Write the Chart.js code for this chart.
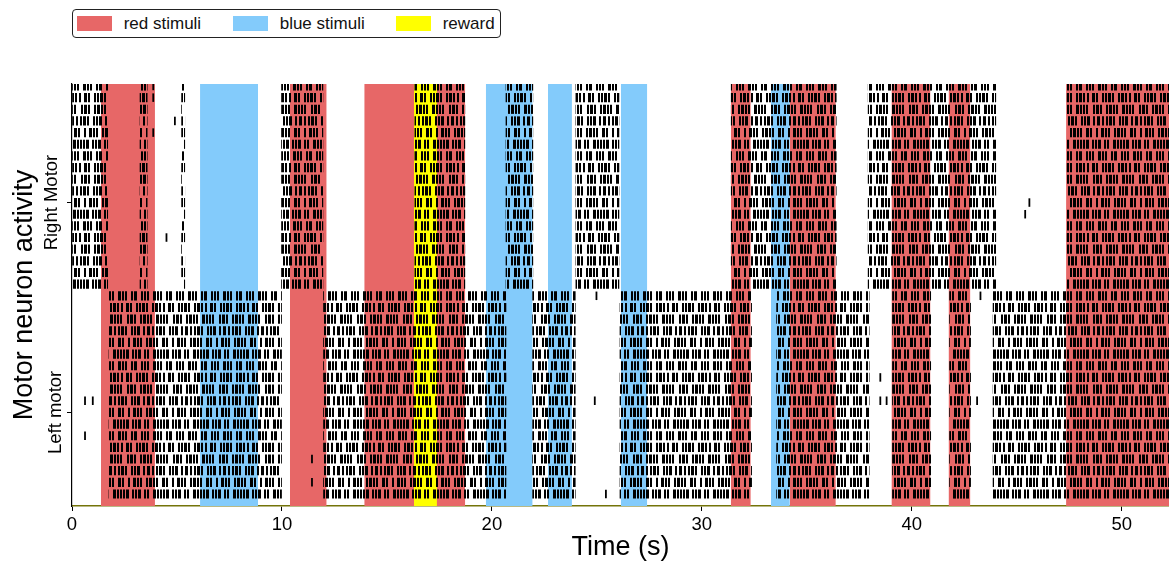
<!DOCTYPE html>
<html>
<head>
<meta charset="utf-8">
<title>Motor neuron activity</title>
<script src="https://cdn.jsdelivr.net/npm/chart.js@4.4.1/dist/chart.umd.min.js"></script>
<style>
  body { margin: 0; background: #fff; }
  #wrap { position: relative; width: 1169px; height: 564px; }
  #legend {
    position: absolute; left: 72px; top: 9px; width: 427px; height: 27px;
    border: 1.3px solid #222; border-radius: 4px; background: #fff;
    font: 17px 'Liberation Sans', Arial, sans-serif; color: #111;
  }
  #legend .sw { position: absolute; top: 6px; width: 35px; height: 15px; }
  #legend .lb { position: absolute; top: 4px; line-height: 19px; white-space: nowrap; }
</style>
</head>
<body>
<div id="wrap">
  <canvas id="raster" width="1169" height="564"></canvas>
  <div id="legend"></div>
</div>
<script>
// Ticks de los ejes
const timeTicks = [0, 10, 20, 30, 40, 50];
const groupTickValues = [7, 25];
const groupTickLabels = ['Left motor', 'Right Motor'];

// Filas (neuronas) de cada grupo
const leftRows = [0, 1, 2, 3, 4, 5, 6, 7, 8, 9, 10, 11, 12, 13, 14, 15, 16, 17];
const rightRows = [18, 19, 20, 21, 22, 23, 24, 25, 26, 27, 28, 29, 30, 31, 32, 33, 34, 35];

// Estímulos [inicio, fin] en segundos
const redStimuli = [[1.38, 3.95], [10.38, 12.13], [13.92, 18.73], [31.38, 32.33],
                    [34.19, 36.38], [39.03, 40.89], [41.75, 42.79], [47.35, 52.3]];
const blueStimuli = [[6.1, 8.86], [19.71, 21.94], [22.67, 23.81], [26.14, 27.4], [33.29, 34.19]];
const rewardStimuli = [[16.29, 17.38]];

// Ráfagas de disparo [inicio, fin] por grupo
const rightBursts = [[0, 1.7], [3.24, 3.58], [5.22, 5.37], [9.98, 11.95], [16.33, 18.71],
                     [20.67, 21.95], [24.0, 26.05], [31.4, 36.4], [37.92, 44.0], [47.4, 52.3]];
const leftBursts = [[1.76, 9.98], [11.98, 20.67], [21.94, 23.97], [26.1, 32.37],
                    [33.56, 37.97], [39.08, 40.9], [41.8, 42.8], [43.87, 52.3]];

// Disparos sueltos
const singleSpikeTimes = [0.62, 0.99, 0.62, 11.43, 11.43, 24.98, 24.9, 25.43, 38.5, 38.5,
                          38.8, 43.27, 43.11, 45.6, 45.4, 3.87, 3.87, 3.87, 4.5, 4.9];
const singleSpikeRows = [8, 8, 5, 3, 1, 17, 8, 0, 10, 8,
                         8, 17, 8, 25, 24, 35, 34, 31, 22, 32];

const RED = '#e76767';
const BLUE = '#83cbfb';
const YELLOW = '#ffff00';

document.addEventListener('DOMContentLoaded', function() {
    Chart.defaults.font.family = "'Liberation Sans', Arial, sans-serif";
    Chart.defaults.color = '#000';

    const yTop = 35.17;

    // Patrones de rayitas verticales para las ráfagas (solo estilo): [x, ancho]
    const tickLayouts = [
        { w: 40, segs: [[0, 2], [3, 2], [6, 3], [12, 2], [15, 2], [18, 3], [24, 2], [27, 2], [33, 3], [37, 2]] },
        { w: 44, segs: [[1, 3], [5, 2], [8, 2], [14, 2], [17, 3], [21, 2], [24, 2], [30, 3], [34, 2], [40, 2]] },
        { w: 38, segs: [[0, 2], [4, 2], [7, 3], [11, 2], [17, 2], [20, 2], [23, 3], [29, 2], [33, 3]] },
        { w: 46, segs: [[2, 2], [5, 3], [9, 2], [12, 2], [18, 3], [22, 2], [25, 2], [28, 2], [35, 2], [38, 3], [42, 2]] },
        { w: 42, segs: [[0, 3], [4, 2], [10, 2], [13, 2], [16, 3], [20, 2], [26, 2], [29, 3], [33, 2], [37, 2]] },
        { w: 35, segs: [[1, 2], [4, 2], [7, 2], [13, 3], [17, 2], [20, 2], [26, 2], [29, 3]] }
    ];
    const spikePatterns = tickLayouts.map(function(t) {
        const c = document.createElement('canvas');
        c.width = t.w;
        c.height = 12;
        const g = c.getContext('2d');
        g.fillStyle = '#000';
        t.segs.forEach(s => g.fillRect(s[0], 0, s[1], 12));
        return g.createPattern(c, 'repeat');
    });

    function burstBars(rows, bursts) {
        const out = [];
        rows.forEach(r => bursts.forEach(b => out.push({ x: [b[0], b[1]], y: r })));
        return out;
    }

    function spanPoints(spans) {
        const pts = [];
        spans.forEach(s => {
            pts.push({ x: s[0], y: yTop }, { x: s[1], y: yTop }, { x: s[1], y: null });
        });
        return pts;
    }

    const spanSeries = [
        { label: 'red stimuli', color: RED, spans: redStimuli, order: 5 },
        { label: 'blue stimuli', color: BLUE, spans: blueStimuli, order: 4 },
        { label: 'reward', color: YELLOW, spans: rewardStimuli, order: 3 }
    ];

    const spanDatasets = spanSeries.map(s => ({
        type: 'line',
        label: s.label,
        data: spanPoints(s.spans),
        backgroundColor: s.color,
        borderWidth: 0,
        pointRadius: 0,
        fill: 'start',
        spanGaps: false,
        order: s.order
    }));

    const spikeFill = ctx => (ctx.raw ? spikePatterns[ctx.raw.y % spikePatterns.length] : '#000');

    const burstDatasets = [
        { label: 'right', data: burstBars(rightRows, rightBursts) },
        { label: 'left', data: burstBars(leftRows, leftBursts) }
    ].map(d => ({
        type: 'bar',
        label: d.label,
        data: d.data,
        indexAxis: 'y',
        grouped: false,
        barThickness: 8.5,
        backgroundColor: spikeFill,
        borderWidth: 0,
        order: 2
    }));

    const singlesDataset = {
        type: 'scatter',
        label: 'single',
        data: singleSpikeTimes.map((t, i) => ({ x: t, y: singleSpikeRows[i] })),
        pointStyle: 'line',
        rotation: 90,
        radius: 4.25,
        borderWidth: 1.8,
        borderColor: '#000',
        order: 1
    };

    // Etiquetas de los grupos, giradas junto a sus ticks
    const groupLabels = {
        id: 'groupLabels',
        afterDraw(chart) {
            const ctx = chart.ctx;
            const yScale = chart.scales.y;
            ctx.save();
            ctx.font = "18.5px 'Liberation Sans', Arial, sans-serif";
            ctx.fillStyle = '#000';
            ctx.textAlign = 'center';
            ctx.textBaseline = 'alphabetic';
            groupTickValues.forEach((v, i) => {
                const m = ctx.measureText(groupTickLabels[i]);
                const baseX = 61 - m.actualBoundingBoxDescent;
                ctx.save();
                ctx.translate(baseX, yScale.getPixelForValue(v));
                ctx.rotate(-Math.PI / 2);
                ctx.fillText(groupTickLabels[i], 0, 0);
                ctx.restore();
            });
            ctx.restore();
        }
    };

    new Chart(document.getElementById('raster'), {
        type: 'bar',
        data: { datasets: spanDatasets.concat(burstDatasets, [singlesDataset]) },
        options: {
            responsive: false,
            animation: false,
            events: [],
            layout: { autoPadding: false, padding: { top: 84, left: 0, right: 0, bottom: 0 } },
            plugins: { legend: { display: false }, tooltip: { enabled: false } },
            scales: {
                x: {
                    type: 'linear',
                    position: 'bottom',
                    offset: false,
                    beginAtZero: false,
                    min: 0,
                    max: 52.25,
                    afterBuildTicks: s => { s.ticks = timeTicks.map(v => ({ value: v })); },
                    afterFit: s => { s.height = 58; },
                    ticks: { font: { size: 18.5 }, padding: 3, color: '#000' },
                    grid: { offset: false, drawOnChartArea: false, tickLength: 5, color: '#000', lineWidth: 1 },
                    border: { display: true, color: '#74740a', width: 1.6 },
                    title: { display: true, text: 'Time (s)', font: { size: 27 }, padding: { top: 0, bottom: 0 }, color: '#000' }
                },
                y: {
                    type: 'linear',
                    position: 'left',
                    offset: false,
                    beginAtZero: false,
                    min: -1.03,
                    max: yTop,
                    afterBuildTicks: s => { s.ticks = groupTickValues.map(v => ({ value: v })); },
                    afterFit: s => { s.width = 72; },
                    ticks: { display: false },
                    grid: { offset: false, drawOnChartArea: false, tickLength: 5, color: '#000', lineWidth: 1 },
                    border: { display: true, color: '#000', width: 1.2 },
                    title: { display: true, text: 'Motor neuron activity', font: { size: 27 }, padding: { top: 8, bottom: 0 }, color: '#000' }
                }
            }
        },
        plugins: [groupLabels]
    });

    // Leyenda en HTML (texto real)
    const legendBox = document.getElementById('legend');
    const swatchLeft = [4.4, 160, 323.4];
    const labelLeft = [50.7, 206.7, 369.7];
    spanSeries.forEach((s, i) => {
        const sw = document.createElement('span');
        sw.className = 'sw';
        sw.style.left = swatchLeft[i] + 'px';
        sw.style.background = s.color;
        const lb = document.createElement('span');
        lb.className = 'lb';
        lb.style.left = labelLeft[i] + 'px';
        lb.textContent = s.label;
        legendBox.appendChild(sw);
        legendBox.appendChild(lb);
    });
});
</script>
</body>
</html>
